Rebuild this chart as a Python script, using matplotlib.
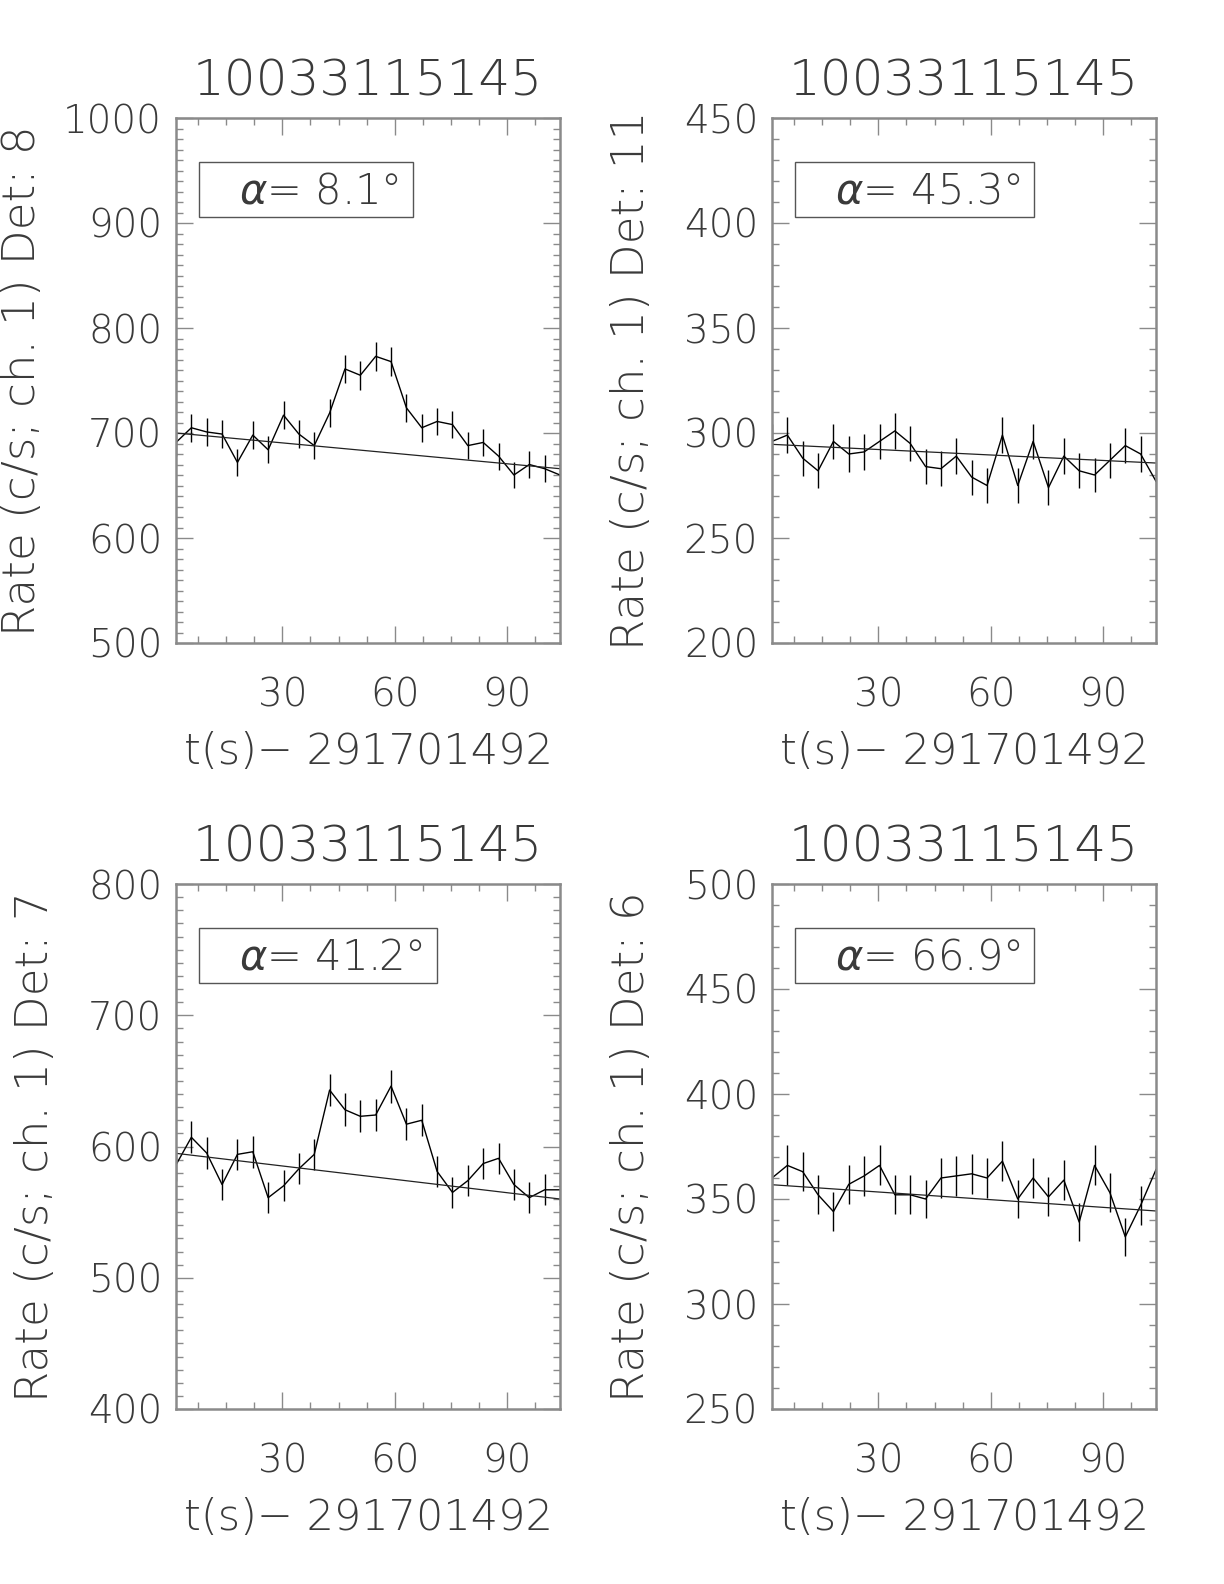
import numpy as np
import matplotlib
matplotlib.use("Agg")
import matplotlib.pyplot as plt
from matplotlib.ticker import MultipleLocator
from matplotlib.patches import Rectangle

plt.rcParams['font.family'] = ['DejaVu Sans']
plt.rcParams['font.weight'] = 'light'
plt.rcParams['axes.titleweight'] = 'light'
plt.rcParams['axes.labelweight'] = 'light'
plt.rcParams['mathtext.fontset'] = 'custom'
plt.rcParams['mathtext.it'] = 'DejaVu Sans:italic:light'
plt.rcParams['mathtext.rm'] = 'DejaVu Sans:light'

# time bins (s after 291701492), 4.096 s binning
t_start = 1.64
bin_width = 4.096
n_bins = 26

obs_id = "10033115145"
t_ref = "291701492"

det_names = ["8", "11", "7", "6"]
alphas = ["8.1", "45.3", "41.2", "66.9"]
y_ranges = [(500, 1000), (200, 450), (400, 800), (250, 500)]

rate_det8 = [691, 705, 701, 699, 672, 698, 684, 717, 699, 688, 719, 761, 755,
             773, 768, 724, 705, 711, 708, 688, 691, 678, 660, 670, 666, 660]
err_det8 = [13.0, 13.1, 13.1, 13.1, 12.8, 13.1, 12.9, 13.2, 13.1, 13.0, 13.3, 13.6, 13.6,
            13.7, 13.7, 13.3, 13.1, 13.2, 13.2, 13.0, 13.0, 12.9, 12.7, 12.8, 12.8, 12.7]
fit_det8 = (700.0, 666.0)

rate_det11 = [296, 299, 288, 282, 296, 290, 291, 296, 301, 295, 284, 283, 289,
              279, 275, 299, 275, 296, 274, 289, 282, 280, 287, 294, 290, 277]
err_det11 = [8.5, 8.5, 8.4, 8.3, 8.5, 8.4, 8.4, 8.5, 8.6, 8.5, 8.3, 8.3, 8.4,
             8.3, 8.2, 8.5, 8.2, 8.5, 8.2, 8.4, 8.3, 8.3, 8.4, 8.5, 8.4, 8.2]
fit_det11 = (294.6, 285.7)

rate_det7 = [586, 607, 595, 571, 594, 596, 561, 570, 583, 594, 643, 628, 623,
             624, 646, 617, 620, 581, 565, 574, 587, 591, 571, 561, 567, 567]
err_det7 = [12.0, 12.2, 12.1, 11.8, 12.0, 12.1, 11.7, 11.8, 11.9, 12.0, 12.5, 12.4, 12.3,
            12.3, 12.6, 12.3, 12.3, 11.9, 11.7, 11.8, 12.0, 12.0, 11.8, 11.7, 11.8, 11.8]
fit_det7 = (594.8, 560.0)

rate_det6 = [360, 366, 363, 352, 344, 357, 361, 366, 352, 352, 350, 360, 361,
             362, 360, 368, 350, 360, 351, 359, 339, 366, 353, 332, 347, 364]
err_det6 = [9.4, 9.5, 9.4, 9.3, 9.2, 9.3, 9.4, 9.5, 9.3, 9.3, 9.2, 9.4, 9.4,
            9.4, 9.4, 9.5, 9.2, 9.4, 9.3, 9.4, 9.1, 9.5, 9.3, 9.0, 9.2, 9.4]
fit_det6 = (356.8, 344.3)

rates = [rate_det8, rate_det11, rate_det7, rate_det6]
errors = [err_det8, err_det11, err_det7, err_det6]
fits = [fit_det8, fit_det11, fit_det7, fit_det6]

text_col = '#3a3a3a'
axis_col = '#8a8a8a'

W, H = 1224, 1584
fig = plt.figure(figsize=(W / 100, H / 100), dpi=100)

# axes boxes in pixels: left, top
boxes = [(176, 118), (772, 118), (176, 884), (772, 884)]
ax_w, ax_h = 384, 525

t = t_start + bin_width * np.arange(n_bins)
t_end = t[-1]

labels = []
for i, (left, top) in enumerate(boxes):
    ax = fig.add_axes([left / W, 1 - (top + ax_h) / H, ax_w / W, ax_h / H])
    y = np.array(rates[i])
    e = np.array(errors[i])
    ax.plot(t, y, color='black', lw=1.0)
    ax.vlines(t, y - e, y + e, color='black', lw=1.0)
    ax.plot([t_start, t_end], fits[i], color='#222222', lw=0.9)

    ax.set_xlim(t_start, t_end)
    ax.set_ylim(*y_ranges[i])
    ax.xaxis.set_major_locator(MultipleLocator(30))
    ax.xaxis.set_minor_locator(MultipleLocator(7.5))
    yspan = y_ranges[i][1] - y_ranges[i][0]
    ax.yaxis.set_major_locator(MultipleLocator(100 if yspan > 300 else 50))
    ax.yaxis.set_minor_locator(MultipleLocator(10))

    for sp in ax.spines.values():
        sp.set_color(axis_col)
        sp.set_linewidth(1.8)
    ax.tick_params(axis='both', which='both', direction='in', top=True, right=True,
                   color=axis_col, width=1.0)
    ax.tick_params(axis='x', which='major', length=12, pad=24)
    ax.tick_params(axis='x', which='minor', length=5)
    ax.tick_params(axis='y', which='major', length=12, pad=10)
    ax.tick_params(axis='y', which='minor', length=5)
    for lab in ax.get_xticklabels() + ax.get_yticklabels():
        lab.set_fontsize(28)
        lab.set_color(text_col)

    ax.set_title(obs_id, fontsize=36, color=text_col, pad=16)
    ax.set_xlabel("t(s)\u2212 " + t_ref, fontsize=31, color=text_col, labelpad=12)
    ax.set_ylabel("Rate (c/s; ch. 1) Det: " + det_names[i], fontsize=32.5,
                  color=text_col)
    xl = -0.345 if y_ranges[i][1] >= 1000 else -0.31
    ax.yaxis.set_label_coords(xl, 0.5)

    txt = ax.text(0.164, 0.838, "$\\alpha$= " + alphas[i] + "\u00b0", transform=ax.transAxes,
                  fontsize=30, color=text_col, ha='left', va='baseline')
    labels.append((ax, txt))

# boxes round the alpha labels, sized to the text
fig.canvas.draw()
renderer = fig.canvas.get_renderer()
for ax, txt in labels:
    bb = txt.get_window_extent(renderer).transformed(ax.transAxes.inverted())
    x0, y0, y1 = 0.06, 0.811, 0.917
    x1 = bb.x1 + 14 / ax_w
    ax.add_patch(Rectangle((x0, y0), x1 - x0, y1 - y0, transform=ax.transAxes,
                           fill=False, ec='#555555', lw=1.0))

fig.savefig('out.png', dpi=100)
